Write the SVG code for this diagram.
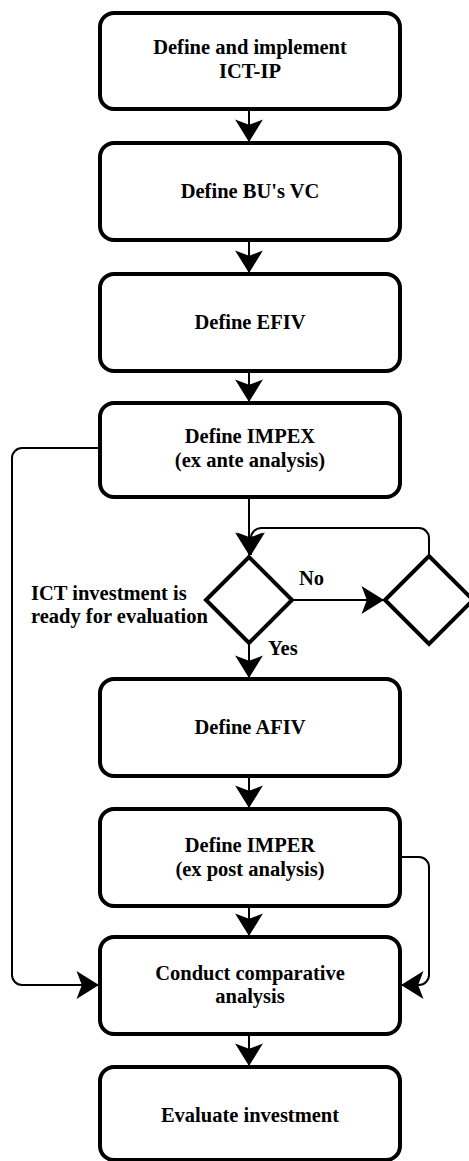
<svg xmlns="http://www.w3.org/2000/svg" width="469" height="1161" viewBox="0 0 469 1161">
  <style>
    .box { fill: #ffffff; stroke: #000000; stroke-width: 4; }
    .dec { fill: #ffffff; stroke: #000000; stroke-width: 4; stroke-linejoin: miter; }
    .lbl { font-family: "Liberation Serif", "Times New Roman", serif; font-weight: bold; font-size: 20.5px; fill: #000000; text-anchor: middle; }
    .side { font-family: "Liberation Serif", "Times New Roman", serif; font-weight: bold; font-size: 20.5px; fill: #000000; }
    .edge { fill: none; stroke: #000000; stroke-width: 2; }
  </style>
  <defs>
    <marker id="arrow" markerUnits="userSpaceOnUse" markerWidth="30" markerHeight="30" viewBox="-22 -14 24 28" refX="0" refY="0" orient="auto">
      <path d="M0,0 L-21,-13 L-16,0 L-21,13 Z" fill="#000000"/>
    </marker>
  </defs>
  <rect width="469" height="1161" fill="#ffffff"/>

  <!-- connectors -->
  <g id="connectors">
    <path class="edge" d="M249,110 V142" marker-end="url(#arrow)"/>
    <path class="edge" d="M249,240 V273" marker-end="url(#arrow)"/>
    <path class="edge" d="M249,371 V402" marker-end="url(#arrow)"/>
    <path class="edge" d="M249,497 V555" marker-end="url(#arrow)"/>
    <path class="edge" d="M429,556 V538 A10,10 0 0 0 419,528 H261 A10,10 0 0 0 251,538 V555" marker-end="url(#arrow)"/>
    <path class="edge" d="M292,600 H384" marker-end="url(#arrow)"/>
    <path class="edge" d="M249,643 V678" marker-end="url(#arrow)"/>
    <path class="edge" d="M249,776 V808" marker-end="url(#arrow)"/>
    <path class="edge" d="M249,906 V936" marker-end="url(#arrow)"/>
    <path class="edge" d="M249,1034 V1066" marker-end="url(#arrow)"/>
    <path class="edge" d="M100,448 H22 A10,10 0 0 0 12,458 V975 A10,10 0 0 0 22,985 H99" marker-end="url(#arrow)"/>
    <path class="edge" d="M400,857 H419 A10,10 0 0 1 429,867 V975 A10,10 0 0 1 419,985 H401" marker-end="url(#arrow)"/>
  </g>

  <g id="n-ictip">
    <rect class="box" x="100" y="13" width="300" height="96" rx="14"/>
    <text class="lbl" x="250" y="54">Define and implement</text>
    <text class="lbl" x="250" y="78">ICT-IP</text>
  </g>
  <g id="n-buvc">
    <rect class="box" x="100" y="143" width="300" height="97" rx="14"/>
    <text class="lbl" x="250" y="198">Define BU's VC</text>
  </g>
  <g id="n-efiv">
    <rect class="box" x="100" y="274" width="300" height="97" rx="14"/>
    <text class="lbl" x="250" y="329">Define EFIV</text>
  </g>
  <g id="n-impex">
    <rect class="box" x="100" y="403" width="300" height="94" rx="14"/>
    <text class="lbl" x="250" y="443">Define IMPEX</text>
    <text class="lbl" x="250" y="467">(ex ante analysis)</text>
  </g>
  <g id="n-ready">
    <polygon class="dec" points="206,600 249,557 292,600 249,643"/>
    <text class="side" x="31" y="600">ICT investment is</text>
    <text class="side" x="31" y="623">ready for evaluation</text>
    <text class="side" x="299" y="585">No</text>
    <text class="side" x="268" y="655">Yes</text>
  </g>
  <g id="n-wait">
    <polygon class="dec" points="385,600 429,556 473,600 429,644"/>
  </g>
  <g id="n-afiv">
    <rect class="box" x="100" y="679" width="300" height="97" rx="14"/>
    <text class="lbl" x="250" y="734">Define AFIV</text>
  </g>
  <g id="n-imper">
    <rect class="box" x="100" y="809" width="300" height="97" rx="14"/>
    <text class="lbl" x="250" y="852">Define IMPER</text>
    <text class="lbl" x="250" y="876">(ex post analysis)</text>
  </g>
  <g id="n-compare">
    <rect class="box" x="100" y="937" width="300" height="97" rx="14"/>
    <text class="lbl" x="250" y="980">Conduct comparative</text>
    <text class="lbl" x="250" y="1003">analysis</text>
  </g>
  <g id="n-evaluate">
    <rect class="box" x="100" y="1067" width="300" height="93" rx="14"/>
    <text class="lbl" x="250" y="1122">Evaluate investment</text>
  </g>
</svg>
